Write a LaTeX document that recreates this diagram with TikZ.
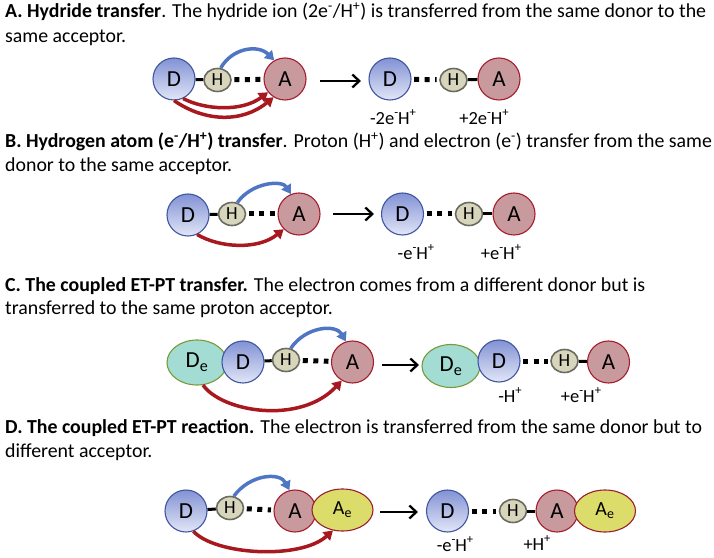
\documentclass[tikz,border=0pt]{standalone}
\usepackage{fontspec}
\setmainfont{Carlito}
\usetikzlibrary{shapes.geometric,arrows.meta}
\definecolor{dtop}{HTML}{8292D4}
\definecolor{dbot}{HTML}{E2E6F7}
\definecolor{dline}{HTML}{3F57A0}
\definecolor{afill}{HTML}{C99A9D}
\definecolor{aline}{HTML}{A51D2D}
\definecolor{hfill}{HTML}{D7D6BC}
\definecolor{hline}{HTML}{6B6B60}
\definecolor{defill}{HTML}{A3DCD2}
\definecolor{deline}{HTML}{7A9A3A}
\definecolor{aefill}{HTML}{DCDC6A}
\definecolor{aeline}{HTML}{9B1F30}
\definecolor{barrow}{HTML}{4F76C4}
\definecolor{rarrow}{HTML}{A8191F}
\newcommand{\upsc}[1]{\raisebox{0.42em}{\scalebox{0.68}{#1}}}
\tikzset{
  atom/.style={ellipse, inner sep=0pt, line width=1.1bp, font=\fontsize{23bp}{24bp}\selectfont},
  donor/.style={atom, draw=dline, top color=dtop, bottom color=dbot, minimum width=42bp, minimum height=42bp},
  acc/.style={atom, draw=aline, fill=afill, minimum width=42bp, minimum height=42bp},
  hyd/.style={atom, draw=hline, line width=1.6bp, fill=hfill, minimum width=27bp, minimum height=23bp, font=\fontsize{18.5bp}{20bp}\selectfont},
  edonor/.style={atom, draw=deline, fill=defill, minimum width=60bp, minimum height=45bp},
  eacc/.style={atom, draw=aeline, fill=aefill, minimum width=61bp, minimum height=42bp, font=\fontsize{20bp}{20bp}\selectfont},
  bond/.style={line width=3bp, black},
  hdots/.style={line width=5bp, black, dash pattern=on 5bp off 5.5bp, shorten <=2.5bp, shorten >=2.5bp},
  barr/.style={line width=3.5bp, barrow, -{Triangle[length=9bp,width=11bp]}},
  rarr/.style={line width=3.5bp, rarrow, -{Triangle[length=9bp,width=11bp]}},
  rxn/.style={line width=2.3bp, black, -{Straight Barb[length=7bp,width=13bp,line width=2.3bp]}},
  lab/.style={font=\fontsize{18.5bp}{19bp}\selectfont, inner sep=0pt},
  txt/.style={anchor=base west, inner sep=0pt, font=\fontsize{19.85bp}{24bp}\selectfont}
}
\begin{document}
\begin{tikzpicture}[x=1bp,y=-1bp]
\useasboundingbox (0,0) rectangle (714,558);
% ---------- Panel A ----------
\node[txt] (ta1) at (5,18) {\textbf{A. Hydride transfer}. The hydride ion (2e\textsuperscript{-}/H\textsuperscript{+}) is transferred from the same donor to the};
\node[txt] (ta2) at (5,43) {same acceptor.};
\node[donor] (aD1) at (174,79) {D};
\node[hyd] (aH1) at (217.5,80) {H};
\node[acc] (aA1) at (285,79) {A};
\draw[bond] (aD1) -- (aH1);
\draw[hdots] (aH1) -- (aA1);
\draw[barr] (aH1.75) .. controls (232,48) and (258,44) .. (aA1.120);
\draw[rarr] (aD1.295) .. controls (205,110) and (242,112) .. (aA1.218);
\draw[rarr] (aD1.270) .. controls (205,122) and (242,123) .. (aA1.238);
\node[donor] (aD2) at (390,79) {D};
\node[hyd] (aH2) at (453.5,80) {H};
\node[acc] (aA2) at (499,79) {A};
\draw[hdots] (aD2) -- (aH2);
\draw[bond] (aH2) -- (aA2);
\coordinate (aR1) at (320,81);
\coordinate (aR2) at (361,81);
\draw[rxn] (aR1) -- (aR2);
\node[lab] (aL1) at (393,117) {-2e\upsc{-}H\upsc{+}};
\node[lab] (aL2) at (484,117) {+2e\upsc{-}H\upsc{+}};
% ---------- Panel B ----------
\node[txt] (tb1) at (5,148) {\textbf{B. Hydrogen atom (e\textsuperscript{-}/H\textsuperscript{+}) transfer}. Proton (H\textsuperscript{+}) and electron (e\textsuperscript{-}) transfer from the same};
\node[txt] (tb2) at (5,172) {donor to the same acceptor.};
\node[donor] (bD1) at (188,215) {D};
\node[hyd] (bH1) at (232,214) {H};
\node[acc] (bA1) at (299,214) {A};
\draw[bond] (bD1) -- (bH1);
\draw[hdots] (bH1) -- (bA1);
\draw[barr] (bH1.65) .. controls (252,182) and (282,180) .. (bA1.112);
\draw[rarr] (bD1.295) .. controls (220,248) and (258,250) .. (bA1.225);
\node[donor] (bD2) at (402.5,214) {D};
\node[hyd] (bH2) at (469,214) {H};
\node[acc] (bA2) at (514,214) {A};
\draw[hdots] (bD2) -- (bH2);
\draw[bond] (bH2) -- (bA2);
\coordinate (bR1) at (333,214);
\coordinate (bR2) at (374,214);
\draw[rxn] (bR1) -- (bR2);
\node[lab] (bL1) at (416,252) {-e\upsc{-}H\upsc{+}};
\node[lab] (bL2) at (501,252) {+e\upsc{-}H\upsc{+}};
% ---------- Panel C ----------
\node[txt] (tc1) at (5,291) {\textbf{C. The coupled ET-PT transfer.} The electron comes from a different donor but is};
\node[txt] (tc2) at (5,314) {transferred to the same proton acceptor.};
\node[edonor] (cE1) at (197,362.5) {D\textsubscript{e}};
\node[donor] (cD1) at (243,362) {D};
\node[hyd] (cH1) at (286,360) {H};
\node[acc] (cA1) at (352.5,362) {A};
\draw[bond] (cD1) -- (cH1);
\draw[hdots] (cH1) -- (cA1);
\draw[barr] (cH1.68) .. controls (306,326) and (336,324) .. (cA1.108);
\draw[rarr] (cE1.285) .. controls (222,412) and (300,425) .. (cA1.240);
\node[edonor, minimum width=58bp, minimum height=43bp] (cE2) at (451,366) {D\textsubscript{e}};
\node[donor] (cD2) at (499,361) {D};
\node[hyd] (cH2) at (564.5,361) {H};
\node[acc] (cA2) at (608.5,362) {A};
\draw[hdots] (cD2) -- (cH2);
\draw[bond] (cH2) -- (cA2);
\coordinate (cR1) at (382,365);
\coordinate (cR2) at (419,365);
\draw[rxn] (cR1) -- (cR2);
\node[lab] (cL1) at (510,395) {-H\upsc{+}};
\node[lab] (cL2) at (581,395) {+e\upsc{-}H\upsc{+}};
% ---------- Panel D ----------
\node[txt] (td1) at (5,433) {\textbf{D. The coupled ET-PT reaction.} The electron is transferred from the same donor but to};
\node[txt] (td2) at (5,457) {different acceptor.};
\node[donor] (dD1) at (186,511) {D};
\node[hyd] (dH1) at (230,508) {H};
\node[acc] (dA1) at (295,511) {A};
\node[eacc] (dE1) at (342.5,510) {A\textsubscript{e}};
\draw[bond] (dD1) -- (dH1);
\draw[hdots] (dH1) -- (dA1);
\draw[barr] (dH1.72) .. controls (250,474) and (280,472) .. (dA1.105);
\draw[rarr] (dD1.290) .. controls (215,555) and (300,560) .. (dE1.245);
\node[donor] (dD2) at (447.5,511) {D};
\node[hyd] (dH2) at (513,511) {H};
\node[acc] (dA2) at (557,511) {A};
\node[eacc] (dE2) at (605,511) {A\textsubscript{e}};
\draw[hdots] (dD2) -- (dH2);
\draw[bond] (dH2) -- (dA2);
\coordinate (dR1) at (380,512);
\coordinate (dR2) at (418,512);
\draw[rxn] (dR1) -- (dR2);
\node[lab] (dL1) at (455,544) {-e\upsc{-}H\upsc{+}};
\node[lab] (dL2) at (537,543) {+H\upsc{+}};
\end{tikzpicture}
\end{document}
